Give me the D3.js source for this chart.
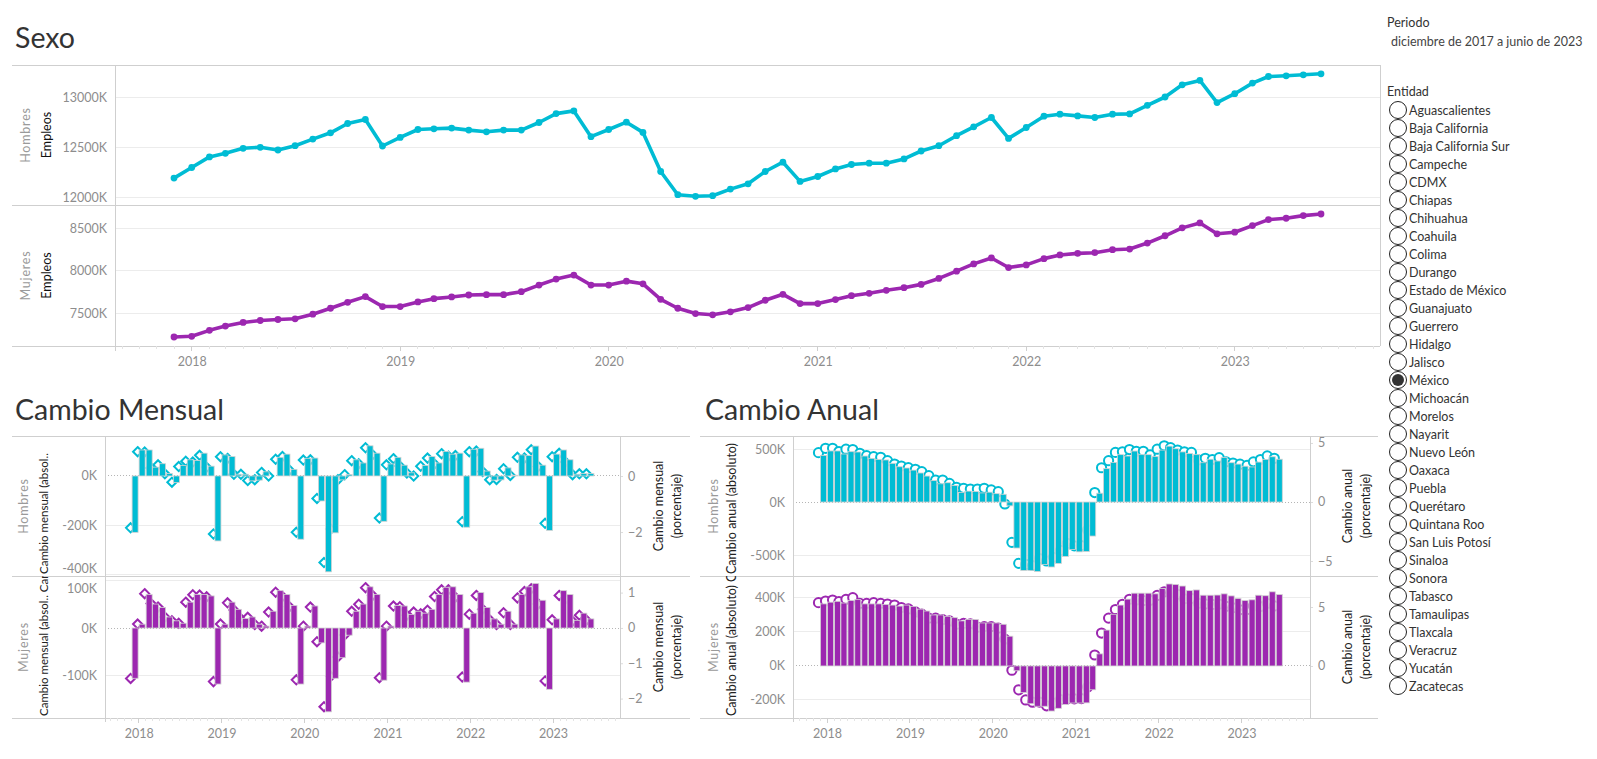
<!DOCTYPE html>
<html><head><meta charset="utf-8">
<script src="https://cdn.jsdelivr.net/npm/d3@7"></script>
<style>
body{margin:0;background:#fff;}
svg{display:block;font-family:Lato,'Open Sans',sans-serif;}
</style>
</head><body>
<svg id="c" width="1597" height="759"></svg>
<script>
// ---------------- DATA ----------------
const meses = ["2017-12",
 "2018-01","2018-02","2018-03","2018-04","2018-05","2018-06","2018-07","2018-08","2018-09","2018-10","2018-11","2018-12",
 "2019-01","2019-02","2019-03","2019-04","2019-05","2019-06","2019-07","2019-08","2019-09","2019-10","2019-11","2019-12",
 "2020-01","2020-02","2020-03","2020-04","2020-05","2020-06","2020-07","2020-08","2020-09","2020-10","2020-11","2020-12",
 "2021-01","2021-02","2021-03","2021-04","2021-05","2021-06","2021-07","2021-08","2021-09","2021-10","2021-11","2021-12",
 "2022-01","2022-02","2022-03","2022-04","2022-05","2022-06","2022-07","2022-08","2022-09","2022-10","2022-11","2022-12",
 "2023-01","2023-02","2023-03","2023-04","2023-05","2023-06"];
const anios = ["2018","2019","2020","2021","2022","2023"];

// Empleos (miles)
const empleosHombres = [12189,12295,12401,12437,12487,12497,12470,12513,12579,12642,12735,12775,
 12510,12596,12675,12682,12689,12669,12652,12669,12669,12745,12834,12861,
 12603,12675,12748,12646,12255,12023,12007,12013,12079,12132,12255,12348,
 12156,12205,12281,12325,12338,12338,12381,12460,12513,12613,12702,12795,
 12586,12695,12808,12828,12811,12795,12828,12831,12917,13000,13122,13166,
 12944,13033,13139,13205,13212,13222,13232];
const empleosMujeres = [7218,7226,7296,7346,7389,7412,7424,7432,7486,7556,7626,7693,
 7576,7576,7630,7669,7689,7712,7716,7716,7751,7829,7899,7946,
 7829,7829,7875,7844,7661,7556,7494,7479,7514,7564,7650,7720,
 7611,7611,7658,7704,7732,7767,7798,7837,7907,7992,8078,8148,
 8035,8066,8140,8183,8202,8210,8245,8253,8323,8409,8502,8560,
 8432,8451,8529,8599,8615,8646,8665];

// Cambio mensual
const mensualAbsHombres = [-230,106,106,36,50,10,-27,43,66,63,93,40,
 -265,86,79,7,7,-20,-17,17,0,76,89,27,
 -258,72,73,-102,-391,-232,-16,6,66,53,123,93,
 -185,49,76,44,13,0,43,79,53,100,89,93,
 -209,109,113,20,-17,-16,33,3,86,83,122,44,
 -222,89,106,66,7,10,10];
const mensualPctHombres = [-1.85,0.87,0.86,0.29,0.40,0.08,-0.22,0.34,0.53,0.50,0.74,0.31,
 -2.07,0.69,0.63,0.06,0.06,-0.16,-0.13,0.13,0.00,0.60,0.70,0.21,
 -2.01,0.57,0.58,-0.80,-3.09,-1.89,-0.13,0.05,0.55,0.44,1.01,0.76,
 -1.50,0.40,0.62,0.36,0.11,0.00,0.35,0.64,0.43,0.80,0.71,0.73,
 -1.63,0.87,0.89,0.16,-0.13,-0.12,0.26,0.02,0.67,0.64,0.94,0.34,
 -1.69,0.69,0.81,0.50,0.05,0.08,0.08];
const mensualAbsMujeres = [-105,8,70,50,43,23,15,10,54,70,70,67,
 -117,8,54,39,20,23,8,4,35,78,70,47,
 -117,4,46,-31,-175,-105,-62,-15,35,50,86,70,
 -109,4,47,46,28,35,31,39,70,85,86,70,
 -113,31,74,43,19,8,35,8,70,86,93,58,
 -128,19,78,70,16,31,19];
const mensualPctMujeres = [-1.43,0.11,0.97,0.69,0.59,0.31,0.20,0.13,0.73,0.94,0.93,0.88,
 -1.52,0.11,0.71,0.51,0.26,0.30,0.10,0.05,0.45,1.01,0.89,0.60,
 -1.47,0.05,0.59,-0.39,-2.23,-1.37,-0.82,-0.20,0.47,0.67,1.14,0.92,
 -1.41,0.05,0.62,0.60,0.36,0.45,0.40,0.50,0.89,1.08,1.08,0.87,
 -1.39,0.39,0.92,0.53,0.23,0.10,0.43,0.10,0.85,1.03,1.11,0.68,
 -1.50,0.23,0.92,0.82,0.19,0.36,0.22];

// Cambio anual
const anualAbsHombres = [440,482,482,453,475,472,434,412,402,397,365,333,
 321,301,274,245,202,172,182,156,90,103,99,86,
 93,79,73,-36,-434,-646,-645,-656,-590,-613,-579,-513,
 -447,-470,-467,-321,83,315,374,447,434,481,447,447,
 430,490,527,503,473,457,447,371,404,387,420,371,
 358,338,331,377,401,427,404];
const anualPctHombres = [4.18,4.55,4.55,4.27,4.47,4.44,4.13,3.93,3.84,3.79,3.50,3.22,
 3.05,2.91,2.77,2.57,2.23,1.86,1.86,1.58,1.25,1.16,1.10,1.10,
 1.16,1.02,0.87,-0.17,-3.42,-5.20,-5.29,-5.38,-4.79,-5.00,-4.69,-4.10,
 -3.51,-3.71,-3.69,-2.37,0.80,2.90,3.50,4.20,4.25,4.44,4.30,4.30,
 4.00,4.47,4.76,4.60,4.40,4.25,4.20,3.56,3.70,3.60,3.75,3.40,
 3.30,3.20,3.10,3.40,3.60,3.90,3.70];
const anualAbsMujeres = [365,375,380,370,385,390,365,365,365,362,358,352,
 358,350,334,323,300,300,292,284,265,273,273,253,
 253,253,245,175,-28,-156,-222,-237,-237,-265,-249,-226,
 -218,-218,-217,-140,71,211,304,358,393,428,428,428,
 424,455,482,479,470,443,447,416,416,417,424,412,
 397,385,389,416,413,436,420];
const anualPctMujeres = [5.37,5.51,5.59,5.45,5.65,5.79,5.31,5.31,5.37,5.31,5.25,5.17,
 4.96,4.84,4.58,4.40,4.06,4.05,3.93,3.82,3.54,3.61,3.58,3.29,
 3.34,3.34,3.21,2.28,-0.36,-2.02,-2.88,-3.07,-3.06,-3.38,-3.15,-2.84,
 -2.78,-2.78,-2.76,-1.78,0.93,2.79,4.06,4.79,5.23,5.66,5.59,5.54,
 5.57,5.98,6.29,6.22,6.08,5.70,5.73,5.31,5.26,5.22,5.25,5.06,
 4.94,4.77,4.78,5.08,5.04,5.31,5.09];

// Axis tick values
const ticksEmpleosH = [12000,12500,13000];
const ticksEmpleosM = [7500,8000,8500];
const ticksMenAbsH = [-400,-200,0];
const ticksMenPctH = [-2,0];
const ticksMenAbsM = [-100,0,100];
const ticksMenPctM = [-2,-1,0,1];
const ticksAnAbsH = [-500,0,500];
const ticksAnPctH = [-5,0,5];
const ticksAnAbsM = [-200,0,200,400];
const ticksAnPctM = [0,5];

const entidades = ["Aguascalientes","Baja California","Baja California Sur","Campeche","CDMX","Chiapas",
 "Chihuahua","Coahuila","Colima","Durango","Estado de México","Guanajuato","Guerrero","Hidalgo","Jalisco",
 "México","Michoacán","Morelos","Nayarit","Nuevo León","Oaxaca","Puebla","Querétaro","Quintana Roo",
 "San Luis Potosí","Sinaloa","Sonora","Tabasco","Tamaulipas","Tlaxcala","Veracruz","Yucatán","Zacatecas"];
const entidadSel = "México";

// ---------------- DRAWING ----------------
const C_H = "#00BCD4", C_M = "#9C27B0";
const FRAME = "#cfcfcf", GRID = "#ececec", TICKC = "#8d8d8d", DARK = "#333";
const svg = d3.select("#c");
const parse = d3.timeParse("%Y-%m");
const fechas = meses.map(parse);
const fechaAnios = anios.map(a => parse(a + "-01"));
const d0 = fechas[0], d1 = fechas[fechas.length - 1];

function ln(x1, y1, x2, y2, stroke, sw = 1, dash = null) {
  const l = svg.append("line").attr("x1", x1).attr("y1", y1).attr("x2", x2).attr("y2", y2)
    .attr("stroke", stroke).attr("stroke-width", sw).attr("shape-rendering", "crispEdges");
  if (dash) l.attr("stroke-dasharray", dash);
  return l;
}
function txt(x, y, s, size, fill, anchor = "start") {
  return svg.append("text").attr("x", x).attr("y", y).text(s).attr("font-size", size)
    .attr("fill", fill).attr("text-anchor", anchor);
}
let clipId = 0;
function vlabel(x, yBottom, yTop, s, size, fill, anchor, spacing = 0) {
  const id = "clp" + (clipId++);
  svg.append("clipPath").attr("id", id).append("rect")
    .attr("x", x - 12).attr("y", yTop).attr("width", 24).attr("height", yBottom - yTop);
  const g = svg.append("g").attr("clip-path", `url(#${id})`);
  const yy = anchor === "middle" ? (yBottom + yTop) / 2 : yBottom - 2;
  g.append("text").attr("transform", `translate(${x},${yy}) rotate(-90)`)
    .attr("text-anchor", anchor).attr("dominant-baseline", "central")
    .attr("letter-spacing", spacing)
    .attr("font-size", size).attr("fill", fill).text(s);
}
function leftAxis(x, scale, ticks, fmt, gx1, gx2) {
  const [yb, yt] = scale.range();
  ticks.forEach(t => { if (t !== 0 || !fmt.zeroDotted) ln(gx1, scale(t), gx2, scale(t), GRID); });
  const g = svg.append("g").attr("transform", `translate(${x},0)`)
    .call(d3.axisLeft(scale).tickValues(ticks).tickSize(0).tickPadding(8).tickFormat(fmt.f));
  g.select(".domain").remove();
  g.selectAll("text").attr("fill", TICKC).attr("font-size", 12.5).attr("font-family", "Lato")
    .attr("transform", d => {
      const y = scale(d);
      const c = Math.max(yt + 12, Math.min(yb - 8, y));
      return `translate(0,${c - y})`;
    });
}
function rightAxis(x, scale, ticks) {
  const g = svg.append("g").attr("transform", `translate(${x},0)`)
    .call(d3.axisRight(scale).tickValues(ticks).tickSize(3).tickPadding(5).tickFormat(d3.format("d")));
  g.select(".domain").remove();
  g.selectAll("line").attr("stroke", "#dcdcdc");
  g.selectAll("text").attr("fill", TICKC).attr("font-size", 12.5).attr("font-family", "Lato");
}
function bottomAxis(xs, y, xa, xb, labelPad) {
  const months = d3.timeMonth.range(xs.invert(xa), xs.invert(xb));
  months.forEach(m => {
    const big = m.getMonth() === 0;
    ln(xs(m), y, xs(m), y + (big ? 5 : 3), big ? "#cfcfcf" : "#e4e4e4");
  });
  const g = svg.append("g").attr("transform", `translate(0,${y})`)
    .call(d3.axisBottom(xs).tickValues(fechaAnios).tickSize(0).tickPadding(labelPad)
      .tickFormat(d3.timeFormat("%Y")));
  g.select(".domain").remove();
  g.selectAll("text").attr("fill", TICKC).attr("font-size", 12.5).attr("font-family", "Lato");
}

// ======== SEXO (top) ========
txt(15, 48, "Sexo", 28.5, DARK);
const xTop = d3.scaleTime().domain([d0, d1]).range([174, 1321]);
const yTopH = d3.scaleLinear().domain([11920, 13320]).range([205, 65]);
const yTopM = d3.scaleLinear().domain([7112, 8771]).range([346, 205]);
const kfmt = { f: d => d + "K" };
leftAxis(115, yTopH, ticksEmpleosH, kfmt, 115, 1380);
leftAxis(115, yTopM, ticksEmpleosM, kfmt, 115, 1380);
ln(12, 65, 1380, 65, FRAME); ln(12, 205, 1380, 205, FRAME); ln(12, 346, 1380, 346, FRAME);
ln(115, 65, 115, 351, FRAME); ln(1380, 65, 1380, 346, FRAME);
bottomAxis(xTop, 346, 115, 1380, 11);
vlabel(25, 205, 65, "Hombres", 12.5, "#9a9a9a", "middle", 0.8);
vlabel(46, 205, 65, "Empleos", 12.5, "#111", "middle");
vlabel(25, 346, 205, "Mujeres", 12.5, "#9a9a9a", "middle", 0.8);
vlabel(46, 346, 205, "Empleos", 12.5, "#111", "middle");

function lineSeries(vals, ys, color) {
  const data = vals.map((v, i) => [fechas[i], v]);
  svg.append("path").datum(data)
    .attr("d", d3.line().x(d => xTop(d[0])).y(d => ys(d[1])))
    .attr("fill", "none").attr("stroke", color).attr("stroke-width", 3.6).attr("stroke-linejoin", "round");
  svg.append("g").selectAll("circle").data(data).join("circle")
    .attr("cx", d => xTop(d[0])).attr("cy", d => ys(d[1])).attr("r", 3.4).attr("fill", color);
}
lineSeries(empleosHombres, yTopH, C_H);
lineSeries(empleosMujeres, yTopM, C_M);

// ======== shared pane drawing (shapes behind bars) ========
function paneMarks(xs, yAbs, yPct, abs, pct, color, shape) {
  const sg = svg.append("g");
  if (shape === "diamond") {
    sg.selectAll("path").data(pct).join("path")
      .attr("transform", (d, i) => `translate(${xs(fechas[i]) - 1},${yPct(d)})`)
      .attr("d", "M0,-4.6L4.6,0L0,4.6L-4.6,0Z")
      .attr("fill", "#fff").attr("stroke", color).attr("stroke-width", 2);
  } else {
    sg.selectAll("circle").data(pct).join("circle")
      .attr("cx", (d, i) => xs(fechas[i]) - 1.5).attr("cy", d => yPct(d)).attr("r", 4.6)
      .attr("fill", "#fff").attr("stroke", color).attr("stroke-width", 2);
  }
  const g = svg.append("g");
  g.selectAll("rect").data(abs).join("rect")
    .attr("x", (d, i) => xs(fechas[i]) + 0.5).attr("width", 6)
    .attr("y", d => Math.min(yAbs(0), yAbs(d))).attr("height", d => Math.abs(yAbs(d) - yAbs(0)))
    .attr("fill", color).attr("stroke", "#d2d2d2").attr("stroke-width", 0.8);
}
const zfmt = { f: d => d + "K", zeroDotted: true };

// ======== CAMBIO MENSUAL ========
txt(15, 420, "Cambio Mensual", 28.5, DARK);
const xMen = d3.scaleTime().domain([d0, d1]).range([131.6, 587.4]);
const yMenH = d3.scaleLinear().domain([-408, 163]).range([576, 436]);
const yMenHp = d3.scaleLinear().domain([-3.57, 1.43]).range([576, 436]);
const yMenM = d3.scaleLinear().domain([-187.9, 108.6]).range([718, 576]);
const yMenMp = d3.scaleLinear().domain([-2.55, 1.47]).range([718, 576]);
leftAxis(105, yMenH, ticksMenAbsH, zfmt, 105, 620);
leftAxis(105, yMenM, ticksMenAbsM, zfmt, 105, 620);
ln(105, yMenH(0), 620, yMenH(0), "#b5b5b5", 1, "1,2");
ln(105, yMenM(0), 620, yMenM(0), "#b5b5b5", 1, "1,2");
rightAxis(620, yMenHp, ticksMenPctH);
rightAxis(620, yMenMp, ticksMenPctM);
paneMarks(xMen, yMenH, yMenHp, mensualAbsHombres, mensualPctHombres, C_H, "diamond");
paneMarks(xMen, yMenM, yMenMp, mensualAbsMujeres, mensualPctMujeres, C_M, "diamond");
ln(12, 436, 690, 436, FRAME); ln(12, 576, 690, 576, FRAME); ln(12, 718, 690, 718, FRAME);
ln(105, 436, 105, 722, FRAME); ln(620, 436, 620, 718, FRAME);
bottomAxis(xMen, 718, 105, 620, 11);
vlabel(23, 576, 436, "Hombres", 12.5, "#9a9a9a", "middle", 0.8);
vlabel(23, 718, 576, "Mujeres", 12.5, "#9a9a9a", "middle", 0.8);
vlabel(43, 576, 436, "Cambio mensual (absol..", 11.5, "#222", "start");
vlabel(43, 718, 576, "Cambio mensual (absol.. Cambio mensual", 11.5, "#222", "start");
[[506], [647]].forEach(([cy]) => {
  vlabel(658, cy + 70, cy - 70, "Cambio mensual", 12.5, "#222", "middle");
  vlabel(676, cy + 70, cy - 70, "(porcentaje)", 12.5, "#222", "middle");
});

// ======== CAMBIO ANUAL ========
txt(705, 420, "Cambio Anual", 28.5, DARK);
const xAn = d3.scaleTime().domain([d0, d1]).range([820, 1275.8]);
const yAnH = d3.scaleLinear().domain([-698, 623]).range([576, 436]);
const yAnHp = d3.scaleLinear().domain([-6.27, 5.59]).range([576, 436]);
const yAnM = d3.scaleLinear().domain([-306, 529]).range([718, 576]);
const yAnMp = d3.scaleLinear().domain([-4.41, 7.63]).range([718, 576]);
leftAxis(793, yAnH, ticksAnAbsH, zfmt, 793, 1310);
leftAxis(793, yAnM, ticksAnAbsM, zfmt, 793, 1310);
ln(793, yAnH(0), 1310, yAnH(0), "#b5b5b5", 1, "1,2");
ln(793, yAnM(0), 1310, yAnM(0), "#b5b5b5", 1, "1,2");
rightAxis(1310, yAnHp, ticksAnPctH);
rightAxis(1310, yAnMp, ticksAnPctM);
paneMarks(xAn, yAnH, yAnHp, anualAbsHombres, anualPctHombres, C_H, "circle");
paneMarks(xAn, yAnM, yAnMp, anualAbsMujeres, anualPctMujeres, C_M, "circle");
ln(700, 436, 1378, 436, FRAME); ln(700, 576, 1378, 576, FRAME); ln(700, 718, 1378, 718, FRAME);
ln(793, 436, 793, 722, FRAME); ln(1310, 436, 1310, 718, FRAME);
bottomAxis(xAn, 718, 793, 1310, 11);
vlabel(713, 576, 436, "Hombres", 12.5, "#9a9a9a", "middle", 0.8);
vlabel(713, 718, 576, "Mujeres", 12.5, "#9a9a9a", "middle", 0.8);
vlabel(731, 576, 436, "Cambio anual (absoluto)", 12.5, "#222", "start");
vlabel(731, 718, 576, "Cambio anual (absoluto) Cambio anual", 12.5, "#222", "start");
[[506], [647]].forEach(([cy]) => {
  vlabel(1347, cy + 70, cy - 70, "Cambio anual", 12.5, "#222", "middle");
  vlabel(1365, cy + 70, cy - 70, "(porcentaje)", 12.5, "#222", "middle");
});

// ======== LEGEND / FILTERS ========
txt(1387, 27, "Periodo", 12.5, DARK);
txt(1391, 46, "diciembre de 2017 a junio de 2023", 12.5, "#444");
txt(1387, 96, "Entidad", 12.5, DARK);
const lg = svg.append("g");
entidades.forEach((e, i) => {
  const cy = 110 + 18 * i;
  lg.append("circle").attr("cx", 1398).attr("cy", cy).attr("r", 8.5)
    .attr("fill", "#fff").attr("stroke", "#222").attr("stroke-width", 1);
  if (e === entidadSel)
    lg.append("circle").attr("cx", 1398).attr("cy", cy).attr("r", 6).attr("fill", "#333");
  lg.append("text").attr("x", 1409).attr("y", cy).attr("dominant-baseline", "central")
    .attr("font-size", 12.5).attr("fill", DARK).text(e);
});
</script>
</body></html>
